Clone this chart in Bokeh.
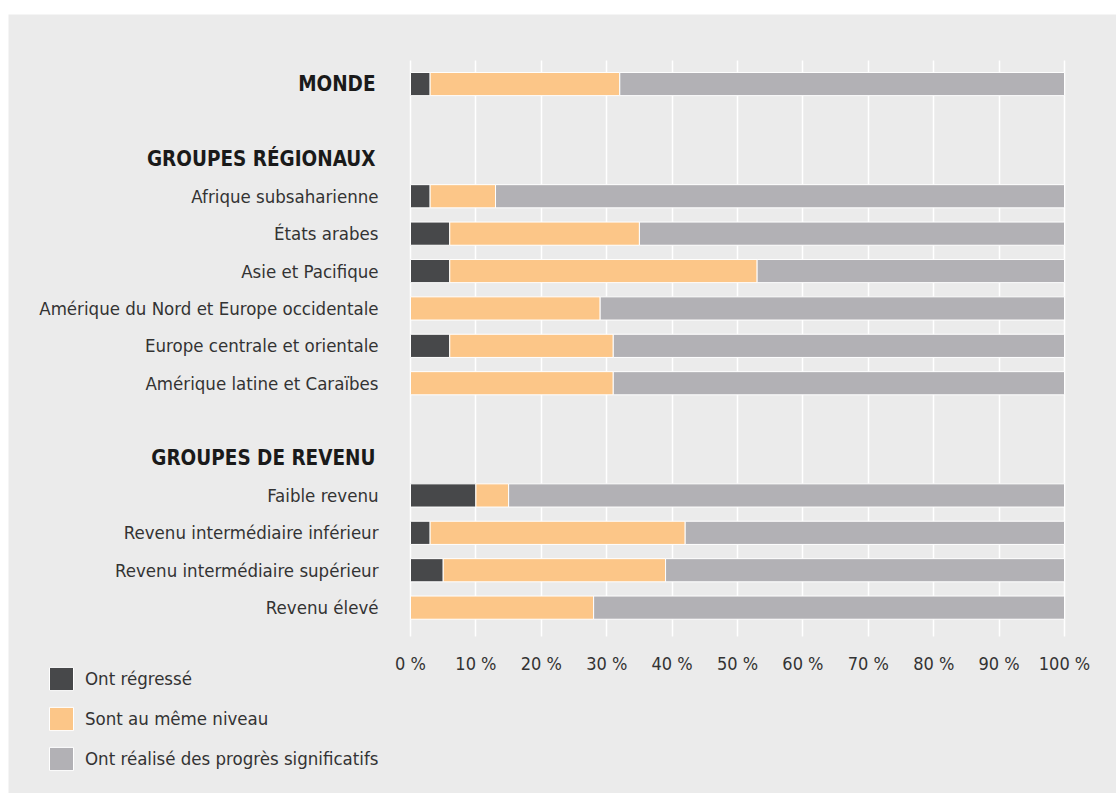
from bokeh.plotting import figure
from bokeh.models import (Range1d, FixedTicker, ColumnDataSource, Legend, LegendItem, Grid)
from bokeh.core.properties import value
from bokeh.embed import file_html
from bokeh.resources import INLINE
import numpy as np

# ---- data ----
rows = ["MONDE", " ", "GROUPES RÉGIONAUX", "Afrique subsaharienne", "États arabes",
        "Asie et Pacifique", "Amérique du Nord et Europe occidentale",
        "Europe centrale et orientale", "Amérique latine et Caraïbes", "  ",
        "GROUPES DE REVENU", "Faible revenu", "Revenu intermédiaire inférieur",
        "Revenu intermédiaire supérieur", "Revenu élevé"]
headers = ["MONDE", "GROUPES RÉGIONAUX", "GROUPES DE REVENU"]
categories = ["MONDE", "Afrique subsaharienne", "États arabes", "Asie et Pacifique",
              "Amérique du Nord et Europe occidentale", "Europe centrale et orientale",
              "Amérique latine et Caraïbes", "Faible revenu",
              "Revenu intermédiaire inférieur", "Revenu intermédiaire supérieur",
              "Revenu élevé"]
regressed = [3, 3, 6, 6, 0, 6, 0, 10, 3, 5, 0]
same_level = [29, 10, 29, 47, 29, 25, 31, 5, 39, 34, 28]
progress = [68, 87, 65, 47, 71, 69, 69, 85, 58, 61, 72]
series_names = ["Ont régressé", "Sont au même niveau", "Ont réalisé des progrès significatifs"]
x_ticks = [0, 10, 20, 30, 40, 50, 60, 70, 80, 90, 100]
x_tick_labels = ["0 %", "10 %", "20 %", "30 %", "40 %", "50 %", "60 %", "70 %", "80 %", "90 %", "100 %"]

# ---- style ----
FONT = "'Liberation Sans Narrow', 'DejaVu Sans Condensed', sans-serif"
BG = "#ebebeb"
COLORS = ["#47484a", "#fcc688", "#b2b1b5"]
TEXT = "#333333"
PLOT_TOP, PLOT_BOTTOM = -0.63, 14.77      # extent of the bar area in row units
TICK_ROW = 15.5                            # row position of the percentage labels

p = figure(width=1108, height=779, output_backend="svg", toolbar_location=None,
           x_range=Range1d(-61.47, 107.95), y_range=Range1d(18.97, -1.86),
           x_axis_location=None, y_axis_location=None, min_border=0)
p.margin = (14, 0, 0, 8)
p.background_fill_color = BG
p.border_fill_color = BG
p.outline_line_color = None
for g in p.grid:
    g.visible = False

# vertical white grid lines, limited to the bar area
grid = Grid(dimension=0, ticker=FixedTicker(ticks=x_ticks),
            grid_line_color="white", grid_line_width=1.5)
if "cross_bounds" in grid.properties():
    grid.cross_bounds = (PLOT_TOP, PLOT_BOTTOM)
    p.add_layout(grid)
else:
    p.segment(x0=x_ticks, x1=x_ticks, y0=[PLOT_TOP] * len(x_ticks), y1=[PLOT_BOTTOM] * len(x_ticks),
              line_color="white", line_width=1.5)

y = np.array([rows.index(c) for c in categories], dtype=float)
vals = [np.array(regressed, float), np.array(same_level, float), np.array(progress, float)]
left = np.zeros(len(categories))
renderers = []
for v, col in zip(vals, COLORS):
    src = ColumnDataSource(dict(y=y, left=left.copy(), right=left + v))
    r = p.hbar(y="y", left="left", right="right", height=0.62, source=src,
               fill_color=col, line_color="white", line_width=1)
    renderers.append(r)
    left = left + v

# percentage tick labels
tsrc = ColumnDataSource(dict(x=x_ticks, y=[TICK_ROW] * len(x_ticks), t=x_tick_labels))
p.text(x="x", y="y", text="t", source=tsrc, text_align="center", text_baseline="middle",
       text_font=value(FONT), text_font_size="18px", text_color=TEXT)

# row labels (normal) and group headers (bold), anchored at the 0 % line
normal = [r for r in rows if r.strip() and r not in headers]
nsrc = ColumnDataSource(dict(x=np.zeros(len(normal)), y=[rows.index(r) for r in normal], t=normal))
p.text(x="x", y="y", text="t", source=nsrc, x_offset=-32,
       text_align="right", text_baseline="middle",
       text_font=value(FONT), text_font_size="18.5px", text_color=TEXT)
hsrc = ColumnDataSource(dict(x=np.zeros(len(headers)), y=[rows.index(h) for h in headers], t=headers))
p.text(x="x", y="y", text="t", source=hsrc, x_offset=-35,
       text_align="right", text_baseline="middle",
       text_font=value(FONT), text_font_size="20.5px", text_font_style="bold",
       text_color="#1a1a1a")

# legend (bottom-left, inside the panel)
legend = Legend(items=[LegendItem(label=n, renderers=[r]) for n, r in zip(series_names, renderers)],
                location=(38, 20), orientation="vertical",
                glyph_width=30, glyph_height=29, label_height=29, spacing=11,
                padding=0, margin=0, border_line_color=None, background_fill_alpha=0,
                label_text_font=FONT, label_text_font_size="18.5px", label_text_color=TEXT,
                label_standoff=9)
p.add_layout(legend, "center")

open("out.html", "w").write(file_html(p, INLINE))
